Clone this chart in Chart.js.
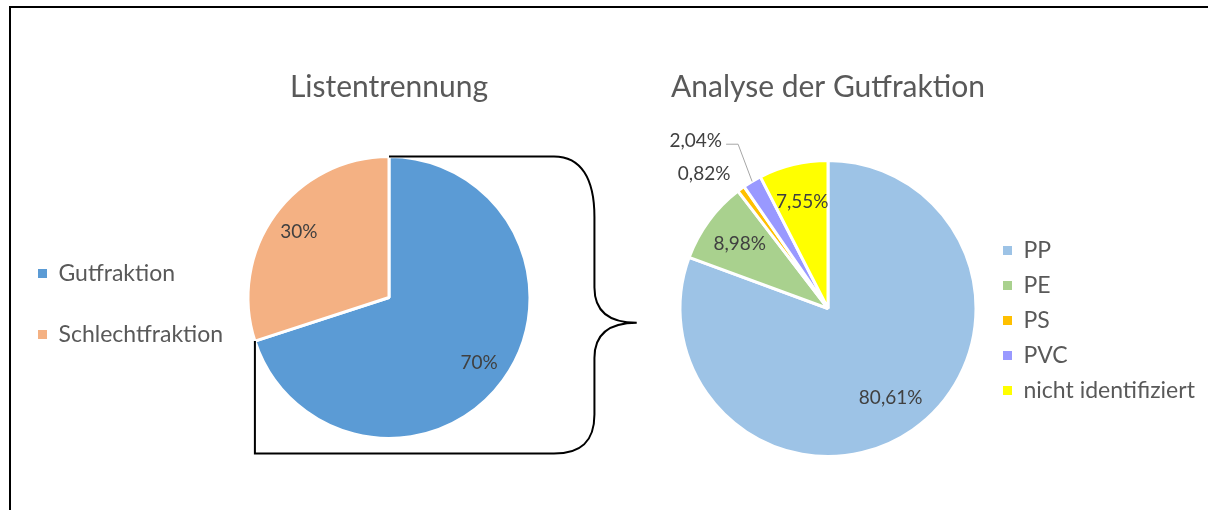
<!DOCTYPE html>
<html lang="de">
<head>
<meta charset="utf-8">
<title>Listentrennung / Analyse der Gutfraktion</title>
<script src="https://cdn.jsdelivr.net/npm/chart.js"></script>
<style>
  html, body { margin: 0; padding: 0; background: #fff; overflow: hidden; }
  #wrap { position: relative; width: 1208px; height: 510px; overflow: hidden; }
  #rahmen { position: absolute; left: 9px; top: 6px; width: 1300px; height: 600px;
            border-top: 2px solid #000; border-left: 2px solid #000; }
  #links { position: absolute; left: 0; top: 0; }
  #rechts { position: absolute; left: 640px; top: 0; }
</style>
</head>
<body>
<div id="wrap">
  <div id="rahmen"></div>
  <canvas id="links" width="640" height="510"></canvas>
  <canvas id="rechts" width="620" height="510"></canvas>
</div>
<script>
// Daten linkes Diagramm
var trennungLabels = ['Gutfraktion', 'Schlechtfraktion'];
var trennungWerte = [70, 30];
var trennungFarben = ['#5B9BD5', '#F4B183'];

// Daten rechtes Diagramm
var gutLabels = ['PP', 'PE', 'PS', 'PVC', 'nicht identifiziert'];
var gutWerte = [80.61, 8.98, 0.82, 2.04, 7.55];
var gutFarben = ['#9DC3E6', '#A9D18E', '#FFC000', '#9999FF', '#FFFF00'];

var schrift = 'Lato, "Open Sans", sans-serif';
var titelSchrift = { family: schrift, size: 30, weight: 'normal' };
var legendeSchrift = { family: schrift, size: 23, weight: 'normal' };

function prozentText(wert, stellen) {
  return wert.toFixed(stellen).replace('.', ',') + '%';
}

// Legende ohne weissen Rand um die Kaestchen
function legendeOhneRand(chart) {
  var items = Chart.overrides.doughnut.plugins.legend.labels.generateLabels(chart);
  items.forEach(function(it) { it.lineWidth = 0; });
  return items;
}

// Breite der Legende so wie Chart.js sie berechnet (Abstand + Kaestchen + Text + 10)
function legendenBreite(labels, abstand) {
  var ctx = document.createElement('canvas').getContext('2d');
  ctx.font = legendeSchrift.size + 'px ' + schrift;
  var maxText = 0;
  labels.forEach(function(t) { maxText = Math.max(maxText, ctx.measureText(t).width); });
  return abstand + 9 + legendeSchrift.size / 2 + maxText + 10;
}

// Beschriftungen der Segmente (kleine Segmente aussen, ggf. mit Fuehrungslinie)
var beschriftungPlugin = {
  id: 'beschriftung',
  afterDatasetsDraw: function(chart, args, opts) {
    var ctx = chart.ctx;
    var werte = chart.data.datasets[0].data;
    var summe = werte.reduce(function(a, b) { return a + b; }, 0);
    var vorherY = null;
    ctx.save();
    ctx.font = opts.size + 'px ' + schrift;
    ctx.fillStyle = '#404040';
    ctx.textBaseline = 'middle';
    chart.getDatasetMeta(0).data.forEach(function(arc, i) {
      var p = arc.getProps(['x', 'y', 'startAngle', 'endAngle', 'outerRadius'], true);
      var mitte = (p.startAngle + p.endAngle) / 2;
      var cos = Math.cos(mitte), sin = Math.sin(mitte);
      var text = prozentText(werte[i], opts.stellen);
      if (werte[i] / summe >= 0.03) {
        ctx.textAlign = 'center';
        ctx.fillText(text, p.x + cos * p.outerRadius * opts.abstand, p.y + sin * p.outerRadius * opts.abstand);
        return;
      }
      var randX = p.x + cos * p.outerRadius, randY = p.y + sin * p.outerRadius;
      var seite = cos < 0 ? -1 : 1;
      var lx = p.x + cos * (p.outerRadius + 18);
      var ly = p.y + sin * (p.outerRadius + 18);
      ctx.textAlign = seite < 0 ? 'right' : 'left';
      if (vorherY !== null && Math.abs(ly - vorherY) < 26) {
        ly = vorherY - 33;
        var knickX = randX + seite * 14;
        ctx.strokeStyle = '#A6A6A6';
        ctx.lineWidth = 1;
        ctx.beginPath();
        ctx.moveTo(randX, randY);
        ctx.lineTo(knickX, ly + 3);
        ctx.lineTo(knickX + seite * 12, ly + 3);
        ctx.stroke();
        lx = knickX + seite * 16;
      }
      ctx.fillText(text, lx, ly);
      vorherY = ly;
    });
    ctx.restore();
  }
};

// Legende vertikal etwas verschieben
var legendeVersatz = {
  id: 'legendeVersatz',
  afterLayout: function(chart, args, opts) {
    chart.legend.top += opts.dy;
    chart.legend.bottom += opts.dy;
  }
};

// geschweifte Klammer um das Segment "Gutfraktion"
var klammerPlugin = {
  id: 'klammer',
  afterDatasetsDraw: function(chart) {
    var p = chart.getDatasetMeta(0).data[0].getProps(['x', 'y', 'startAngle', 'endAngle', 'outerRadius'], true);
    var r = p.outerRadius, cx = p.x, cy = p.y;
    var startX = cx + Math.cos(p.startAngle) * r, startY = cy + Math.sin(p.startAngle) * r;
    var endeX = cx + Math.cos(p.endAngle) * r, endeY = cy + Math.sin(p.endAngle) * r;
    var xa = cx + r * 1.17, xb = cx + r * 1.457, xs = cx + r * 1.757;
    var y1 = cy - r * 0.571, y2 = cy - r * 0.071, ys = cy + r * 0.179;
    var y3 = cy + r * 0.429, y4 = cy + r * 0.829, unten = cy + r * 1.107;
    var ctx = chart.ctx;
    ctx.save();
    ctx.strokeStyle = '#000';
    ctx.lineWidth = 2;
    ctx.beginPath();
    ctx.moveTo(startX, startY);
    ctx.lineTo(xa, startY);
    ctx.bezierCurveTo(xa + 27, startY, xb, startY + 22, xb, y1);
    ctx.lineTo(xb, y2);
    ctx.quadraticCurveTo(xb, ys, xs, ys);
    ctx.quadraticCurveTo(xb, ys, xb, y3);
    ctx.lineTo(xb, y4);
    ctx.bezierCurveTo(xb, unten - 12, xa + 27, unten, xa, unten);
    ctx.lineTo(endeX, unten);
    ctx.lineTo(endeX, endeY);
    ctx.stroke();
    ctx.restore();
  }
};

function zeichnen() {
  // linkes Diagramm: Kreismitte bei x = 389 (Canvas beginnt bei 0)
  var breiteL = legendenBreite(trennungLabels, 38);
  var rechtsL = 640 - (2 * 389 - breiteL);

  // rechtes Diagramm: Canvas ab x = 640, Diagrammbereich 665..991
  var breiteR = legendenBreite(gutLabels, 12);
  var rechtsR = (640 + 620) - 991 - breiteR;

  new Chart(document.getElementById('links'), {
    type: 'pie',
    data: {
      labels: trennungLabels,
      datasets: [{
        data: trennungWerte,
        backgroundColor: trennungFarben,
        borderColor: '#FFFFFF',
        borderWidth: 3
      }]
    },
    options: {
      responsive: false,
      animation: false,
      events: [],
      radius: 141,
      layout: { padding: { left: 0, right: rechtsL, top: 0, bottom: 28 } },
      plugins: {
        title: {
          display: true, text: 'Listentrennung', fullSize: false,
          color: '#595959', font: titelSchrift, padding: { top: 69, bottom: 8 }
        },
        legend: {
          position: 'left', fullSize: false,
          labels: {
            boxWidth: 9, boxHeight: 9, padding: 38, color: '#595959',
            font: legendeSchrift, generateLabels: legendeOhneRand
          }
        },
        tooltip: { enabled: false },
        beschriftung: { size: 19, stellen: 0, abstand: 0.79 },
        legendeVersatz: { dy: 6.5 }
      }
    },
    plugins: [beschriftungPlugin, legendeVersatz, klammerPlugin]
  });

  new Chart(document.getElementById('rechts'), {
    type: 'pie',
    data: {
      labels: gutLabels,
      datasets: [{
        data: gutWerte,
        backgroundColor: gutFarben,
        borderColor: '#FFFFFF',
        borderWidth: 3
      }]
    },
    options: {
      responsive: false,
      animation: false,
      events: [],
      radius: 148,
      layout: { padding: { left: 25, right: rechtsR, top: 0, bottom: 6 } },
      plugins: {
        title: {
          display: true, text: 'Analyse der Gutfraktion', fullSize: false,
          color: '#595959', font: titelSchrift, padding: { top: 69, bottom: 8 }
        },
        legend: {
          position: 'right', fullSize: false,
          labels: {
            boxWidth: 9, boxHeight: 9, padding: 12, color: '#595959',
            font: legendeSchrift, generateLabels: legendeOhneRand
          }
        },
        tooltip: { enabled: false },
        beschriftung: { size: 19, stellen: 2, abstand: 0.74 },
        legendeVersatz: { dy: 12 }
      }
    },
    plugins: [beschriftungPlugin, legendeVersatz]
  });
}

if (document.fonts && document.fonts.load) {
  document.fonts.load('23px Lato').then(zeichnen, zeichnen);
} else {
  zeichnen();
}
</script>
</body>
</html>
